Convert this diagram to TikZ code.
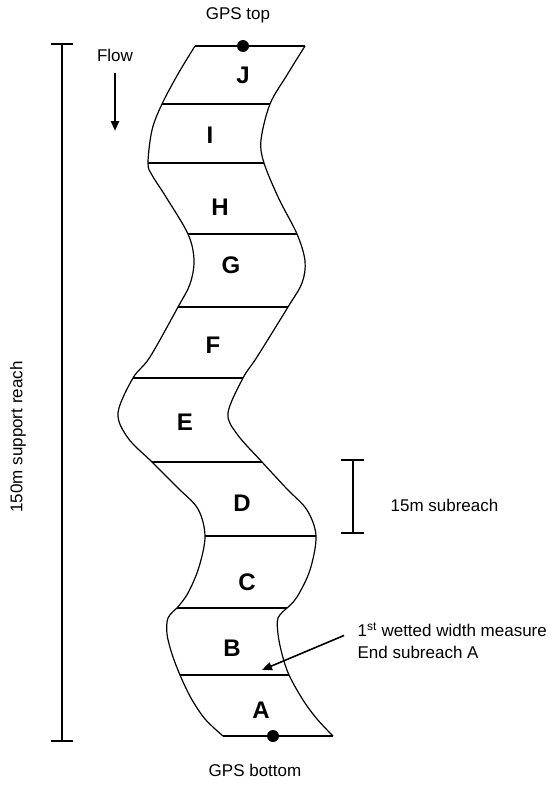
\documentclass[tikz,border=0pt]{standalone}
\usepackage{fontspec}
\setmainfont{Liberation Sans}
\usetikzlibrary{arrows.meta,positioning}

\begin{document}
\begin{tikzpicture}[x=1pt,y=-1pt,line width=1.2pt,>={Triangle[length=10pt,width=8pt]},
  every node/.style={font=\fontsize{17}{20}\selectfont},
  reach/.style={font=\fontsize{24}{28}\selectfont\bfseries},
  gps/.style={circle,fill,inner sep=0pt,minimum size=12pt},
  bank/.style={smooth,tension=0.55}]
\useasboundingbox (0,0) rectangle (553,790);
% subreach boundaries, left and right bank
\coordinate (l0) at (195,46);  \coordinate (r0) at (305,46);
\coordinate (l1) at (162,104); \coordinate (r1) at (270,104);
\coordinate (l2) at (148,163); \coordinate (r2) at (264,163);
\coordinate (l3) at (188,234); \coordinate (r3) at (297,234);
\coordinate (l4) at (178,307); \coordinate (r4) at (288,307);
\coordinate (l5) at (133,378); \coordinate (r5) at (243,378);
\coordinate (l6) at (152,462); \coordinate (r6) at (262,462);
\coordinate (l7) at (205,536); \coordinate (r7) at (316,536);
\coordinate (l8) at (177,608); \coordinate (r8) at (287,608);
\coordinate (l9) at (180,675); \coordinate (r9) at (289,675);
\coordinate (l10) at (223,736); \coordinate (r10) at (333,736);
\foreach \i in {0,...,10}
  \draw (l\i) -- (r\i);
\draw plot[bank] coordinates {(l0) (178,74) (l1) (152,130) (l2) (152,175) (166,197) (l3) (194,260) (190,284) (l4) (150,357) (l5) (118,413) (128,438) (l6) (178,488) (198,509) (l7) (199,567) (188,593) (l8)};
\draw plot[bank] coordinates {(l8) (168,618) (167,634) (172,654) (l9) (191,698) (205,719) (l10)};
\draw plot[bank] coordinates {(r0) (287,75) (r1) (261,140) (r2) (279,199) (r3) (305,261) (302,283) (r4) (257,357) (r5) (228,413) (237,434) (r6) (287,489) (307,510) (r7) (310,570) (297,597) (r8)};
\draw plot[bank] coordinates {(r8) (278,618) (278,634) (282,654) (r9) (303,700) (317,719) (r10)};
\foreach \name/\x/\y in {A/261/710,B/232/648,C/247/582,D/242/503,E/185/422,F/213/345,G/231/265,H/220/207,I/210/135,J/243/75}
  \node (sec\name) [reach] at (\x,\y) {\name};
\node (dottop) [gps] at (243,46) {};
\node (dotbot) [gps] at (273,736) {};
\node (gpstop) at (238,15) {GPS top};
\node (gpsbot) at (255,770) {GPS bottom};
\node (flow) at (115,55) {Flow};
\coordinate (flowend) at (115,131);
\draw[->,line width=2.4pt,shorten <=8pt] (flow) -- (flowend);
\coordinate (reachtop) at (62,44);
\coordinate (reachbot) at (62,741);
\draw (reachtop) -- (reachbot);
\draw ([xshift=-11pt]reachtop) -- ([xshift=11pt]reachtop);
\draw ([xshift=-11pt]reachbot) -- ([xshift=11pt]reachbot);
\node (support) [rotate=90] at (18,437) {150m support reach};
\coordinate (subtop) at (353,460);
\coordinate (subbot) at (353,533);
\draw (subtop) -- (subbot);
\draw ([xshift=-12pt]subtop) -- ([xshift=11pt]subtop);
\draw ([xshift=-12pt]subbot) -- ([xshift=11pt]subbot);
\node (sub) [anchor=west,inner sep=0pt] at (390,505) {15m subreach};
\node (measure) [anchor=west,inner sep=0pt] at (357,630) {1\textsuperscript{st} wetted width measure};
\node (endA) [below=8pt of measure.south west,anchor=north west,inner sep=0pt] {End subreach A};
\coordinate (tip) at (262,670);
\draw[->,line width=1.6pt,shorten <=14pt] (measure.west) -- (tip);
\end{tikzpicture}
\end{document}
